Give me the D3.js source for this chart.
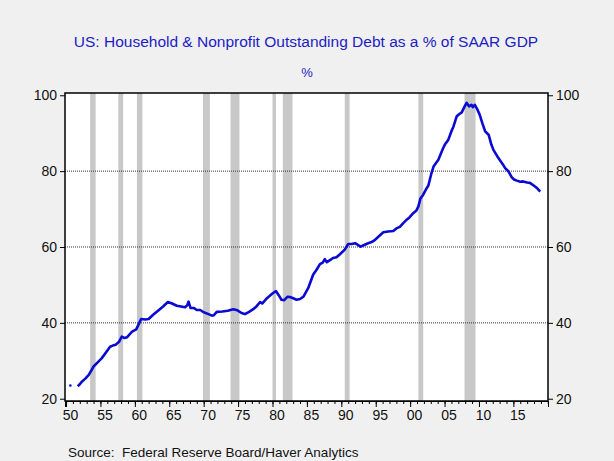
<!DOCTYPE html>
<html>
<head>
<meta charset="utf-8">
<script src="https://cdn.jsdelivr.net/npm/d3@7"></script>
<style>
  body { margin: 0; background: #f0f0f0; }
  svg { display: block; font-family: "Liberation Sans", Arial, sans-serif; }
</style>
</head>
<body>
<script>
// household & nonprofit debt as % of GDP
var years = [1951.7,1952.0,1952.3,1952.8,1953.3,1953.7,1954.0,1954.6,1955.2,1955.8,
  1956.4,1956.8,1957.2,1957.7,1958.1,1958.5,1958.85,1959.2,1959.6,1960.2,
  1960.6,1960.9,1961.5,1962.0,1962.7,1963.5,1964.1,1964.8,1965.4,1966.1,
  1966.7,1967.3,1967.6,1967.8,1968.1,1968.6,1969.0,1969.5,1970.0,1970.7,
  1971.2,1971.45,1971.9,1972.7,1973.5,1974.3,1974.9,1975.5,1976.0,1976.6,
  1977.2,1977.7,1978.2,1978.5,1979.2,1979.9,1980.5,1980.9,1981.3,1981.7,
  1982.2,1982.55,1983.0,1983.5,1984.0,1984.5,1985.2,1985.9,1986.4,1986.9,
  1987.3,1987.6,1987.9,1988.4,1988.8,1989.3,1989.8,1990.5,1991.0,1991.5,
  1992.0,1992.8,1993.4,1993.9,1994.4,1994.9,1995.5,1996.1,1996.8,1997.55,
  1998.0,1998.5,1999.0,1999.5,1999.9,2000.45,2000.9,2001.2,2001.5,2001.9,
  2002.4,2002.65,2003.1,2003.4,2004.1,2004.8,2005.05,2005.55,2006.0,2006.3,
  2006.75,2007.1,2007.5,2007.9,2008.2,2008.55,2008.9,2009.1,2009.4,2009.7,
  2010.1,2010.5,2010.9,2011.4,2011.8,2012.1,2012.8,2013.5,2013.8,2014.3,
  2014.75,2015.1,2015.5,2016.0,2016.4,2017.0,2017.4,2018.1,2018.5,2018.9];
var debt = [23.3,23.8,24.5,25.3,26.3,27.5,28.5,29.6,30.7,32.2,
  33.7,34.0,34.2,35.0,36.4,36.0,36.2,36.9,37.7,38.3,
  39.8,41.0,40.9,41.0,42.2,43.4,44.3,45.5,45.1,44.5,
  44.3,44.1,44.6,45.6,43.9,43.9,43.4,43.4,42.8,42.3,
  41.9,42.0,42.9,43.0,43.2,43.6,43.3,42.6,42.3,42.9,
  43.6,44.4,45.5,45.1,46.5,47.6,48.4,47.3,46.1,46.0,
  46.9,46.8,46.5,46.1,46.3,46.9,49.2,52.7,54.0,55.5,
  55.9,56.8,56.0,56.6,57.1,57.3,58.1,59.3,60.8,60.8,
  61.0,60.1,60.6,61.0,61.3,61.9,62.9,63.9,64.1,64.2,
  64.9,65.3,66.3,67.2,67.8,68.9,69.6,70.7,72.8,73.8,
  75.5,76.2,79.5,81.2,83.0,86.1,87.0,88.3,90.5,91.8,
  94.4,95.0,95.5,97.0,98.0,97.1,97.5,96.9,97.5,96.5,
  94.9,92.6,90.5,89.6,87.0,85.6,83.5,81.7,80.8,79.9,
  78.4,77.8,77.5,77.2,77.3,77.0,76.9,76.0,75.4,74.6];
// lone early observation
var firstYear = [1950.63];
var firstDebt = [23.5];

// recessions
var recStart = [1953.5,1957.6,1960.3,1969.9,1973.9,1980.0,1981.5,1990.5,2001.2,2007.9];
var recEnd   = [1954.3,1958.3,1961.1,1970.9,1975.2,1980.5,1982.9,1991.2,2001.9,2009.5];

var yTicks = [20,40,60,80,100];
var xTickYears = [1950,1955,1960,1965,1970,1975,1980,1985,1990,1995,2000,2005,2010,2015];

var W = 614, H = 461;
// plot box (note: "top" is reserved on window)
var pL = 65, pR = 548, pT = 93, pB = 401;

var svg = d3.select("body").append("svg")
  .attr("width", W)
  .attr("height", H);

var x = d3.scaleLinear().domain([1949.85, 2020.03]).range([pL, pR]);
var y = d3.scaleLinear().domain([19.4, 100.6]).range([pB, pT]);

svg.append("rect")
  .attr("x", pL).attr("y", pT)
  .attr("width", pR - pL).attr("height", pB - pT)
  .attr("fill", "#ffffff");

// recession bars
svg.selectAll("rect.rec")
  .data(recStart)
  .enter()
  .append("rect")
  .attr("class", "rec")
  .attr("x", function(d) { return x(d); })
  .attr("y", pT)
  .attr("width", function(d, i) { return x(recEnd[i]) - x(d); })
  .attr("height", pB - pT)
  .attr("fill", "#c8c8c8");

// dotted grid
svg.selectAll("line.grid")
  .data([40, 60, 80])
  .enter()
  .append("line")
  .attr("class", "grid")
  .attr("x1", pL).attr("x2", pR)
  .attr("y1", function(d) { return y(d); })
  .attr("y2", function(d) { return y(d); })
  .attr("stroke", "#333")
  .attr("stroke-width", 1)
  .attr("stroke-dasharray", "1,1");

// series
var pts = years.map(function(d, i) { return [d, debt[i]]; });
var line = d3.line()
  .x(function(d) { return x(d[0]); })
  .y(function(d) { return y(d[1]); });

svg.append("path")
  .datum(pts)
  .attr("d", line)
  .attr("fill", "none")
  .attr("stroke", "#0a0ad2")
  .attr("stroke-width", 2.6)
  .attr("stroke-linejoin", "round");

svg.selectAll("circle.first")
  .data(firstYear)
  .enter()
  .append("circle")
  .attr("cx", function(d) { return x(d); })
  .attr("cy", function(d, i) { return y(firstDebt[i]); })
  .attr("r", 1.3)
  .attr("fill", "#0a0ad2");

// frame
svg.append("rect")
  .attr("x", pL).attr("y", pT)
  .attr("width", pR - pL).attr("height", pB - pT)
  .attr("fill", "none")
  .attr("stroke", "#000")
  .attr("stroke-width", 1.5);

// axes
var yLeft = d3.axisLeft(y).tickValues(yTicks).tickSize(5).tickPadding(3);
var yRight = d3.axisRight(y).tickValues(yTicks).tickSize(5).tickPadding(3);

var gl = svg.append("g").attr("transform", "translate(" + pL + ",0)").call(yLeft);
var gr = svg.append("g").attr("transform", "translate(" + pR + ",0)").call(yRight);

var minor = d3.range(1950, 2021);
var xMinor = d3.axisBottom(x).tickValues(minor).tickSize(3).tickFormat("");
var xMajor = d3.axisBottom(x).tickValues(xTickYears).tickSize(6).tickFormat("");
svg.append("g").attr("transform", "translate(0," + pB + ")").call(xMinor);
svg.append("g").attr("transform", "translate(0," + pB + ")").call(xMajor);

[gl, gr].forEach(function(g) {
  g.select(".domain").remove();
  g.selectAll("text").attr("font-size", 14).attr("fill", "#111")
    .attr("font-family", "Liberation Sans, Arial, sans-serif");
  g.selectAll("line").attr("stroke", "#000");
});
svg.selectAll("g .domain").attr("stroke", "#000");

// year labels sit a bit right of their tick
svg.selectAll("text.xlab")
  .data(xTickYears)
  .enter()
  .append("text")
  .attr("class", "xlab")
  .attr("x", function(d) { return x(d + 0.65); })
  .attr("y", 420)
  .attr("text-anchor", "middle")
  .attr("font-size", 14)
  .attr("fill", "#111")
  .text(function(d) { return d3.format("02d")(d % 100); });

// titles
svg.append("text")
  .attr("x", 306).attr("y", 47)
  .attr("text-anchor", "middle")
  .attr("font-size", 15.5)
  .attr("fill", "#1c1cc4")
  .text("US: Household & Nonprofit Outstanding Debt as a % of SAAR GDP");

svg.append("text")
  .attr("x", 307).attr("y", 77)
  .attr("text-anchor", "middle")
  .attr("font-size", 13)
  .attr("fill", "#1c1cc4")
  .text("%");

svg.append("text")
  .attr("x", 68).attr("y", 457)
  .attr("font-size", 13.5)
  .attr("fill", "#111")
  .attr("xml:space", "preserve")
  .text("Source:  Federal Reserve Board/Haver Analytics");
</script>
</body>
</html>
